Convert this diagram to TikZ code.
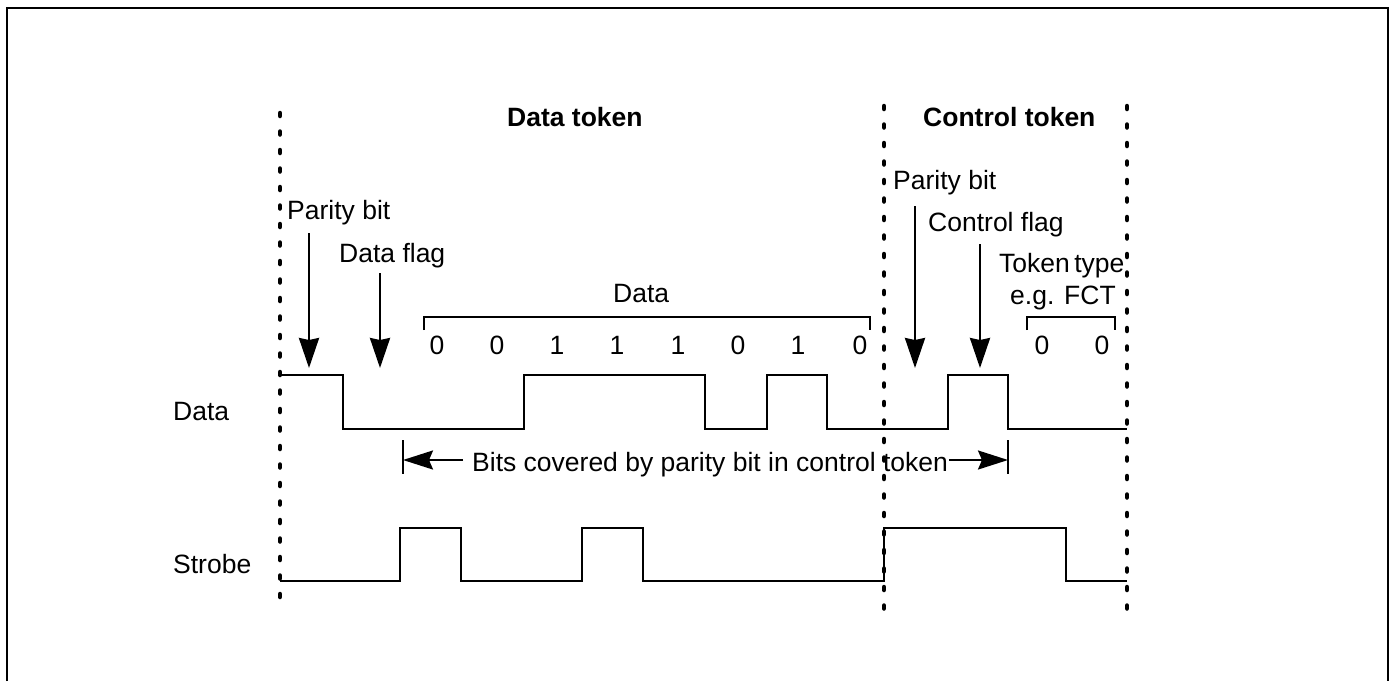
\documentclass[tikz,border=0pt]{standalone}
\usepackage{fontspec}
\setmainfont{Liberation Sans}
\usetikzlibrary{arrows.meta}
\tikzset{
  sig/.style={line width=2.4pt, line join=miter},
  ptr/.style={line width=2.6pt, -{Stealth[length=30pt,width=20pt,inset=2pt]}},
  tokline/.style={line width=4.5pt, line cap=round, dash pattern=on 3pt off 15.5pt},
  lbl/.style={inner sep=0pt, anchor=base west, font=\fontsize{26.5}{30}\selectfont},
  blbl/.style={lbl, font=\fontsize{26.5}{30}\selectfont\bfseries},
  dig/.style={inner sep=0pt, anchor=base, font=\fontsize{26.5}{30}\selectfont},
  brk/.style={line width=2.2pt},
  frame/.style={line width=2.2pt}
}
\begin{document}
\begin{tikzpicture}[x=1pt, y=-1pt]
\useasboundingbox (0,0) rectangle (1393,681);
\fill[white] (0,0) rectangle (1393,681);
\draw[frame] (7,681) -- (7,8) -- (1388,8) -- (1388,681);

% token boundaries
\coordinate (b1t) at (280,113); \coordinate (b1b) at (280,610);
\coordinate (b2t) at (884,106); \coordinate (b2b) at (884,615);
\coordinate (b3t) at (1127,106); \coordinate (b3b) at (1127,615);
\draw[tokline] (b1t) -- (b1b);
\draw[tokline] (b2t) -- (b2b);
\draw[tokline] (b3t) -- (b3b);

% titles
\node[blbl] (dtok) at (507,126) {Data token};
\node[blbl] (ctok) at (923,126) {Control token};

% row labels
\node[lbl] (datalbl) at (173,420) {Data};
\node[lbl] (strlbl) at (173,573) {Strobe};

% signals
\draw[sig] (280,375) -- (343,375) -- (343,429) -- (524,429) -- (524,375) -- (705,375) -- (705,429) -- (767,429) -- (767,375) -- (827,375) -- (827,429) -- (948,429) -- (948,375) -- (1008,375) -- (1008,429) -- (1127,429);
\draw[sig] (280,581) -- (400,581) -- (400,528) -- (461,528) -- (461,581) -- (582,581) -- (582,528) -- (643,528) -- (643,581) -- (884,581) -- (884,528) -- (1066,528) -- (1066,581) -- (1127,581);

% data token labels and arrows
\node[lbl] (par1) at (287,219) {Parity bit};
\node[lbl] (dflag) at (339,262) {Data flag};
\coordinate (par1s) at (309,233); \coordinate (par1e) at (309,368);
\coordinate (dflags) at (380,273); \coordinate (dflage) at (380,368);
\draw[ptr] (par1s) -- (par1e);
\draw[ptr] (dflags) -- (dflage);

% data bracket
\node[lbl] (datab) at (613,302) {Data};
\coordinate (db1) at (424,330); \coordinate (db2) at (424,317);
\coordinate (db3) at (870,317); \coordinate (db4) at (870,330);
\draw[brk] (db1) -- (db2) -- (db3) -- (db4);

\node[dig] (d1) at (437,354) {0};
\node[dig] (d2) at (497,354) {0};
\node[dig] (d3) at (557,354) {1};
\node[dig] (d4) at (617,354) {1};
\node[dig] (d5) at (678,354) {1};
\node[dig] (d6) at (738,354) {0};
\node[dig] (d7) at (798,354) {1};
\node[dig] (d8) at (860,354) {0};

% control token labels and arrows
\node[lbl] (par2) at (893,189) {Parity bit};
\node[lbl] (cflag) at (928,231) {Control flag};
\node[lbl] (ttype) at (999,272) {Token\,type};
\node[lbl] (eg) at (1010,304) {e.g. FCT};
\coordinate (par2s) at (915,206); \coordinate (par2e) at (915,368);
\coordinate (cflags) at (980,244); \coordinate (cflage) at (980,368);
\draw[ptr] (par2s) -- (par2e);
\draw[ptr] (cflags) -- (cflage);

\coordinate (cb1) at (1027,330); \coordinate (cb2) at (1027,317);
\coordinate (cb3) at (1115,317); \coordinate (cb4) at (1115,330);
\draw[brk] (cb1) -- (cb2) -- (cb3) -- (cb4);
\node[dig] (c1) at (1042,354) {0};
\node[dig] (c2) at (1102,354) {0};

% bits covered
\node[lbl] (bits) at (472,471) {Bits covered by parity bit in control token};
\coordinate (lb1) at (403,440); \coordinate (lb2) at (403,474);
\coordinate (rb1) at (1008,440); \coordinate (rb2) at (1008,474);
\draw[line width=2.4pt] (lb1) -- (lb2);
\draw[line width=1.8pt] (rb1) -- (rb2);
\coordinate (la) at (463,460); \coordinate (lat) at (403,460);
\coordinate (ra) at (949,460); \coordinate (rat) at (1008,460);
\draw[line width=2.2pt, -{Stealth[length=30pt,width=19pt,inset=4pt]}] (la) -- (lat);
\draw[line width=2.2pt, -{Stealth[length=30pt,width=19pt,inset=4pt]}] (ra) -- (rat);
\end{tikzpicture}
\end{document}
